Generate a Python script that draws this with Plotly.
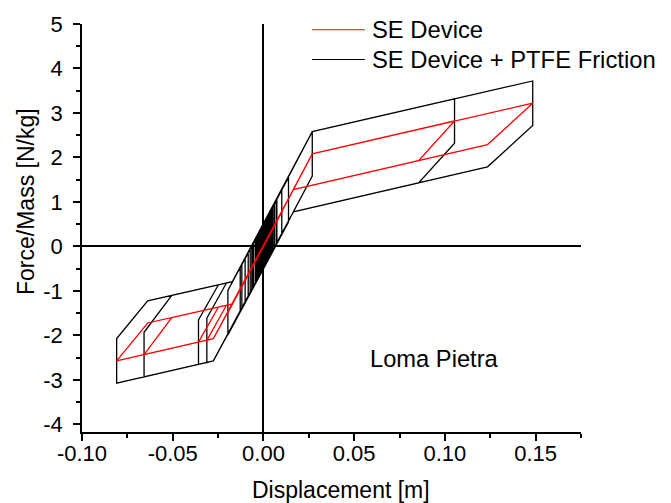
import plotly.graph_objects as go

# ---- data ----
se_x = [0.0, 0.0269, -0.0119, 0.0138, -0.0064, 0.0269, 0.1053, 0.0855, 0.0165, -0.0276,
        -0.0358, -0.0248, -0.0171, 0.0101, -0.0276, -0.0312, -0.0204, -0.0171, 0.0074, -0.0276,
        -0.0809, -0.0638, -0.0171, 0.0269, 0.1484, 0.1235, 0.0165, -0.0276, -0.0658, -0.0505,
        -0.0171, 0.0050, -0.0196, 0.0030, -0.0128, 0.0040, -0.0101, 0.0020, -0.0073, 0.0010,
        -0.0055, 0.0060, -0.0030, 0.0045, -0.0015, 0.0025, -0.0040, 0.0015, -0.0020, 0.0035,
        -0.0045, 0.0008, -0.0062, 0.0052, -0.0025, 0.0018, -0.0084, 0.0005, -0.0035, 0.0070,
        -0.0010, 0.0]
se_y = [0.0, 2.08, -0.91, 1.05, -0.49, 2.08, 2.82, 1.93, 1.28, -2.07,
        -2.15, -1.36, -1.29, 0.77, -2.07, -2.11, -1.32, -1.29, 0.56, -2.07,
        -2.57, -1.72, -1.29, 2.08, 3.22, 2.29, 1.28, -2.07, -2.43, -1.60,
        -1.29, 0.38, -1.49, 0.23, -0.97, 0.30, -0.77, 0.15, -0.55, 0.08,
        -0.42, 0.46, -0.23, 0.34, -0.11, 0.19, -0.30, 0.11, -0.15, 0.27,
        -0.34, 0.06, -0.47, 0.40, -0.19, 0.14, -0.64, 0.04, -0.27, 0.53,
        -0.08, 0.0]

fr_x = [0.0, 0.0269, 0.0269, -0.0119, -0.0119, 0.0138, 0.0138, -0.0064, -0.0064, 0.0269,
        0.1053, 0.1053, 0.0855, 0.0165, -0.0276, -0.0358, -0.0358, -0.0248, -0.0171, 0.0101,
        0.0101, -0.0276, -0.0312, -0.0312, -0.0204, -0.0171, 0.0074, 0.0074, -0.0276, -0.0809,
        -0.0809, -0.0638, -0.0171, 0.0269, 0.1484, 0.1484, 0.1235, 0.0165, -0.0276, -0.0658,
        -0.0658, -0.0505, -0.0171, 0.0050, 0.0050, -0.0196, -0.0196, 0.0030, 0.0030, -0.0128,
        -0.0128, 0.0040, 0.0040, -0.0101, -0.0101, 0.0020, 0.0020, -0.0073, -0.0073, 0.0010,
        0.0010, -0.0055, -0.0055, 0.0060, 0.0060, -0.0030, -0.0030, 0.0045, 0.0045, -0.0015,
        -0.0015, 0.0025, 0.0025, -0.0040, -0.0040, 0.0015, 0.0015, -0.0020, -0.0020, 0.0035,
        0.0035, -0.0045, -0.0045, 0.0008, 0.0008, -0.0062, -0.0062, 0.0052, 0.0052, -0.0025,
        -0.0025, 0.0018, 0.0018, -0.0084, -0.0084, 0.0005, 0.0005, -0.0035, -0.0035, 0.0070,
        0.0070, -0.0010, -0.0010, 0.0]
fr_y = [0.50, 2.58, 1.58, -1.41, -0.41, 1.55, 0.55, -0.99, 0.01, 2.58,
        3.32, 2.32, 1.43, 0.78, -2.57, -2.65, -1.65, -0.86, -0.79, 1.27,
        0.27, -2.57, -2.61, -1.61, -0.82, -0.79, 1.06, 0.06, -2.57, -3.07,
        -2.07, -1.22, -0.79, 2.58, 3.72, 2.72, 1.79, 0.78, -2.57, -2.93,
        -1.93, -1.10, -0.79, 0.88, -0.12, -1.99, -0.99, 0.73, -0.27, -1.47,
        -0.47, 0.80, -0.20, -1.27, -0.27, 0.65, -0.35, -1.05, -0.05, 0.58,
        -0.42, -0.92, 0.08, 0.96, -0.04, -0.73, 0.27, 0.84, -0.16, -0.61,
        0.39, 0.69, -0.31, -0.80, 0.20, 0.61, -0.39, -0.65, 0.35, 0.77,
        -0.23, -0.84, 0.16, 0.56, -0.44, -0.97, 0.03, 0.90, -0.10, -0.69,
        0.31, 0.64, -0.36, -1.14, -0.14, 0.54, -0.46, -0.77, 0.23, 1.03,
        0.03, -0.58, 0.42, 0.50]

series_names = ["SE Device", "SE Device + PTFE Friction"]
series_colors = ["#ff0000", "#000000"]

x_ticks = [-0.10, -0.05, 0.00, 0.05, 0.10, 0.15]
x_tick_labels = ["-0.10", "-0.05", "0.00", "0.05", "0.10", "0.15"]
x_minor = [-0.075, -0.025, 0.025, 0.075, 0.125, 0.175]
y_ticks = [-4, -3, -2, -1, 0, 1, 2, 3, 4, 5]
y_tick_labels = ["-4", "-3", "-2", "-1", "0", "1", "2", "3", "4", "5"]
y_minor = [-3.5, -2.5, -1.5, -0.5, 0.5, 1.5, 2.5, 3.5, 4.5]

FONT = "Liberation Sans, Arial, sans-serif"
LW = 1.3

fig = go.Figure()
fig.add_trace(go.Scatter(x=fr_x, y=fr_y, mode="lines", name=series_names[1], showlegend=False,
                         line=dict(color=series_colors[1], width=LW)))
fig.add_trace(go.Scatter(x=se_x, y=se_y, mode="lines", name=series_names[0], showlegend=False,
                         line=dict(color=series_colors[0], width=LW)))

axis_common = dict(showline=True, linecolor="black", linewidth=1.8, mirror=False,
                   ticks="outside", ticklen=7, tickwidth=1.6, tickcolor="black",
                   showgrid=False, zeroline=True, zerolinecolor="black", zerolinewidth=1.6,
                   tickfont=dict(family=FONT, size=22, color="black"))

# legend drawn as line samples + text (paper coordinates)
leg_rows_y = [0.986, 0.913]
shapes = []
annotations = []
for name, color, ly in zip(series_names, series_colors, leg_rows_y):
    shapes.append(dict(type="line", xref="paper", yref="paper", x0=0.461, x1=0.567,
                       y0=ly, y1=ly, line=dict(color=color, width=1.1)))
    annotations.append(dict(text=name, xref="paper", yref="paper", x=0.5766, y=ly,
                            xanchor="left", yanchor="middle", showarrow=False,
                            font=dict(family=FONT, size=23.8, color="black")))

annotations += [
    dict(text="Displacement [m]", xref="paper", yref="paper", x=0.519, y=-0.142,
         xanchor="center", yanchor="middle", showarrow=False,
         font=dict(family=FONT, size=23, color="black")),
    dict(text="Force/Mass [N/kg]", xref="paper", yref="paper", x=-0.112, y=0.564,
         xanchor="center", yanchor="middle", textangle=-90, showarrow=False,
         font=dict(family=FONT, size=23, color="black")),
    dict(text="Loma Pietra", xref="x", yref="y", x=0.0944, y=-2.53,
         xanchor="center", yanchor="middle", showarrow=False,
         font=dict(family=FONT, size=23.7, color="black")),
]

fig.update_layout(
    width=671, height=503,
    margin=dict(l=82, r=90, t=21, b=71),
    paper_bgcolor="white", plot_bgcolor="white",
    showlegend=False,
    xaxis=dict(range=[-0.1, 0.175], tickmode="array", tickvals=x_ticks, ticktext=x_tick_labels,
               minor=dict(tickmode="array", tickvals=x_minor, ticks="outside", ticklen=4,
                          tickwidth=1.6, tickcolor="black", showgrid=False),
               ticklabelstandoff=-6, **axis_common),
    yaxis=dict(range=[-4.17, 5], tickmode="array", tickvals=y_ticks, ticktext=y_tick_labels,
               minor=dict(tickmode="array", tickvals=y_minor, ticks="outside", ticklen=4,
                          tickwidth=1.6, tickcolor="black", showgrid=False),
               ticklabelstandoff=6, **axis_common),
    shapes=shapes,
    annotations=annotations,
    hovermode=False,
)

fig.write_html("out.html", config={"displayModeBar": False})
